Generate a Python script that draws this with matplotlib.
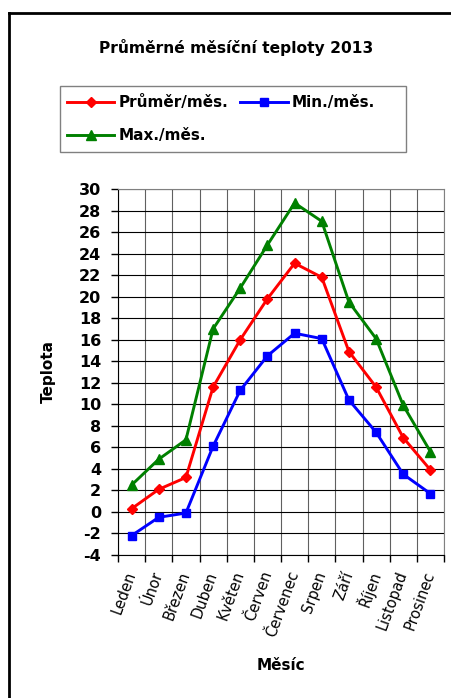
import matplotlib
matplotlib.use("Agg")
import matplotlib.pyplot as plt
from matplotlib.lines import Line2D
from matplotlib.patches import Rectangle
from matplotlib.ticker import MultipleLocator, FixedLocator

# data
mesice = ["Leden", "Únor", "Březen", "Duben", "Květen", "Červen",
          "Červenec", "Srpen", "Září", "Říjen", "Listopad", "Prosinec"]
prumer = [0.3, 2.1, 3.2, 11.6, 16.0, 19.8, 23.1, 21.8, 14.9, 11.6, 6.9, 3.9]
minimum = [-2.2, -0.5, -0.1, 6.1, 11.3, 14.5, 16.6, 16.1, 10.4, 7.4, 3.5, 1.7]
maximum = [2.5, 4.9, 6.7, 17.0, 20.8, 24.8, 28.7, 27.0, 19.5, 16.1, 9.9, 5.6]
y_ticks = list(range(-4, 31, 2))

plt.rcParams['font.family'] = ['DejaVu Sans']

W, H = 452, 698
fig = plt.figure(figsize=(W / 100, H / 100), dpi=100)
ax = fig.add_axes([118 / W, 1 - 555 / H, (444 - 118) / W, (555 - 189) / H])

x = list(range(len(mesice)))
l1, = ax.plot(x, prumer, color="red", lw=2.1, marker="D", ms=5.5, label="Průměr/měs.")
l2, = ax.plot(x, minimum, color="blue", lw=2.1, marker="s", ms=6, label="Min./měs.")
l3, = ax.plot(x, maximum, color="green", lw=2.1, marker="^", ms=7, label="Max./měs.")

ax.set_xlim(-0.5, len(mesice) - 0.5)
ax.set_ylim(-4, 30)
ax.yaxis.set_major_locator(FixedLocator(y_ticks))
ax.set_yticklabels([str(v) for v in y_ticks], fontsize=11.5, fontweight="bold")
ax.set_xticks(x)
ax.set_xticklabels(mesice, rotation=70, ha="right", va="center",
                   rotation_mode="anchor", fontsize=10.5)
ax.xaxis.set_minor_locator(MultipleLocator(1, offset=0.5))
ax.tick_params(axis="x", which="major", length=0, pad=12)
ax.tick_params(axis="x", which="minor", length=5, width=1, direction="out")
ax.tick_params(axis="y", length=5, width=1, direction="out", pad=7)

ax.grid(True, axis="y", which="major", color="black", lw=0.8)
ax.grid(True, axis="x", which="minor", color="#606060", lw=0.8)
ax.set_axisbelow(True)

for s in ["top", "right"]:
    ax.spines[s].set_color("#808080")
for s in ["left", "bottom"]:
    ax.spines[s].set_color("black")

fig.text(48 / W, 1 - 371 / H, "Teplota", fontsize=11, fontweight="bold",
         rotation=90, ha="center", va="center")
fig.text(281 / W, 1 - 666 / H, "Měsíc", fontsize=11, fontweight="bold",
         ha="center", va="center")
fig.text(236 / W, 1 - 47 / H, "Průměrné měsíční teploty 2013", fontsize=11.2,
         fontweight="bold", ha="center", va="center")

# legend box as in the original chart
fig.add_artist(Rectangle((60 / W, 1 - 152 / H), 346 / W, 66 / H, fill=False,
                         edgecolor="#808080", lw=1, transform=fig.transFigure))
leg = fig.legend([l1, l3, l2], ["Průměr/měs.", "Max./měs.", "Min./měs."],
                 ncol=2, loc="upper left", bbox_to_anchor=(64 / W, 1 - 92 / H),
                 bbox_transform=fig.transFigure, frameon=False,
                 prop={"size": 11, "weight": "bold"}, handlelength=3.1,
                 labelspacing=1.2, columnspacing=0.8, borderaxespad=0,
                 handletextpad=0.25, borderpad=0.2)

# outer chart frame (left and top edges visible)
fig.add_artist(Line2D([9 / W, 9 / W], [0, 1 - 13 / H], color="black", lw=2,
                      transform=fig.transFigure))
fig.add_artist(Line2D([9 / W, 1], [1 - 13 / H, 1 - 13 / H], color="black", lw=2,
                      transform=fig.transFigure))

fig.savefig("out.png", dpi=100)
